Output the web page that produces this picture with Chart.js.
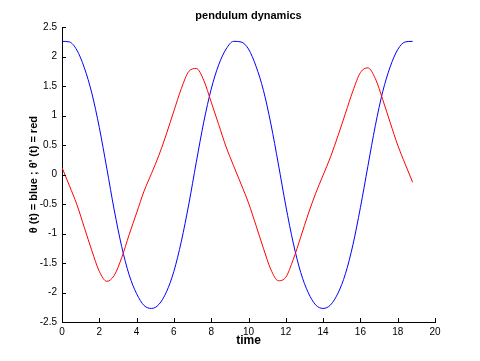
<!DOCTYPE html>
<html>
<head>
<meta charset="utf-8">
<script src="https://cdn.jsdelivr.net/npm/chart.js@4/dist/chart.umd.min.js"></script>
<style>
  html, body { margin: 0; padding: 0; background: #fff; }
  canvas { display: block; }
</style>
</head>
<body>
<canvas id="chart" width="480" height="361"></canvas>
<script>
// time samples (s)
var time = [0, 0.4, 0.8, 1.2, 1.6, 2.0, 2.4, 2.8, 3.2, 3.6, 4.0, 4.4, 4.8, 5.2, 5.6, 6.0,
  6.4, 6.8, 7.2, 7.6, 8.0, 8.4, 8.8, 9.2, 9.6, 10.0, 10.4, 10.8, 11.2, 11.6, 12.0, 12.4,
  12.8, 13.2, 13.6, 14.0, 14.4, 14.8, 15.2, 15.6, 16.0, 16.4, 16.8, 17.2, 17.6, 18.0, 18.4, 18.8];

// angle, blue
var theta = [2.26, 2.25, 2.11, 1.81, 1.38, 0.80, 0.11, -0.60, -1.22, -1.70, -2.02, -2.22, -2.27, -2.20, -1.99, -1.64,
  -1.13, -0.50, 0.21, 0.89, 1.45, 1.86, 2.13, 2.26, 2.25, 2.13, 1.84, 1.43, 0.86, 0.18, -0.53, -1.16,
  -1.66, -2.00, -2.21, -2.27, -2.21, -2.01, -1.68, -1.19, -0.56, 0.14, 0.83, 1.41, 1.83, 2.12, 2.25, 2.26];

// angular velocity, red
var omega = [0.12, -0.19, -0.51, -0.90, -1.29, -1.64, -1.81, -1.71, -1.41, -1.02, -0.65, -0.28, 0.02, 0.33, 0.69, 1.08,
  1.46, 1.75, 1.80, 1.60, 1.23, 0.85, 0.47, 0.15, -0.16, -0.48, -0.86, -1.25, -1.61, -1.80, -1.74, -1.44,
  -1.06, -0.67, -0.32, -0.01, 0.30, 0.66, 1.04, 1.42, 1.73, 1.81, 1.63, 1.27, 0.88, 0.50, 0.18, -0.13];

var xTicks = [0, 2, 4, 6, 8, 10, 12, 14, 16, 18, 20];
var yTicks = [-2.5, -2, -1.5, -1, -0.5, 0, 0.5, 1, 1.5, 2, 2.5];

function points(ys) {
  return time.map(function (t, i) { return { x: t, y: ys[i] }; });
}

var fontFamily = '"Liberation Sans", Arial, Helvetica, sans-serif';

// matlab style ticks pointing into the axes
var innerTicks = {
  id: 'innerTicks',
  afterDraw: function (chart) {
    var ctx = chart.ctx;
    var xs = chart.scales.x, ys = chart.scales.y;
    var len = 4;
    ctx.save();
    ctx.strokeStyle = '#000';
    ctx.lineWidth = 1;
    ctx.beginPath();
    xTicks.forEach(function (v) {
      var px = Math.round(xs.getPixelForValue(v)) + 0.5;
      ctx.moveTo(px, ys.bottom);
      ctx.lineTo(px, ys.bottom - len);
    });
    yTicks.forEach(function (v) {
      var py = Math.round(ys.getPixelForValue(v)) + 0.5;
      ctx.moveTo(xs.left, py);
      ctx.lineTo(xs.left + len, py);
    });
    ctx.stroke();
    ctx.restore();
  }
};

var ctx = document.getElementById('chart');
new Chart(ctx, {
  type: 'line',
  data: {
    datasets: [{
      label: 'theta',
      data: points(theta),
      borderColor: '#0000ff',
      borderWidth: 1,
      pointRadius: 0,
      fill: false,
      cubicInterpolationMode: 'monotone',
      order: 2
    }, {
      label: 'omega',
      data: points(omega),
      borderColor: '#ff0000',
      borderWidth: 1,
      pointRadius: 0,
      fill: false,
      cubicInterpolationMode: 'monotone',
      order: 1
    }]
  },
  options: {
    responsive: false,
    animation: false,
    events: [],
    layout: { padding: { left: 0, right: 45, top: 0, bottom: 0 } },
    plugins: {
      legend: { display: false },
      tooltip: { enabled: false },
      title: {
        display: true,
        text: 'pendulum dynamics',
        fullSize: false,
        color: '#000',
        font: { family: fontFamily, size: 11, weight: 'bold' },
        padding: { top: 9, bottom: 5 }
      }
    },
    scales: {
      x: {
        type: 'linear',
        min: 0,
        max: 20,
        grid: { display: false, drawTicks: false },
        border: { display: true, color: '#000', width: 1 },
        afterFit: function (s) { s.height = 39; },
        ticks: {
          stepSize: 2,
          padding: 4,
          color: '#000',
          maxRotation: 0,
          font: { family: fontFamily, size: 10 },
          callback: function (v) { return String(v); }
        },
        title: {
          display: true,
          text: 'time',
          color: '#000',
          font: { family: fontFamily, size: 12, weight: 'bold' },
          padding: { top: 0, bottom: 13 }
        }
      },
      y: {
        type: 'linear',
        min: -2.5,
        max: 2.5,
        grid: { display: false, drawTicks: false },
        border: { display: true, color: '#000', width: 1 },
        afterFit: function (s) { s.width = 62; },
        ticks: {
          stepSize: 0.5,
          padding: 5,
          color: '#000',
          font: { family: fontFamily, size: 10 },
          callback: function (v) { return String(v); }
        },
        title: {
          display: true,
          text: "\u03b8 (t) = blue ; \u03b8' (t) = red",
          color: '#000',
          font: { family: fontFamily, size: 11, weight: 'bold' },
          padding: { top: 27, bottom: 0 }
        }
      }
    }
  },
  plugins: [innerTicks]
});
</script>
</body>
</html>
